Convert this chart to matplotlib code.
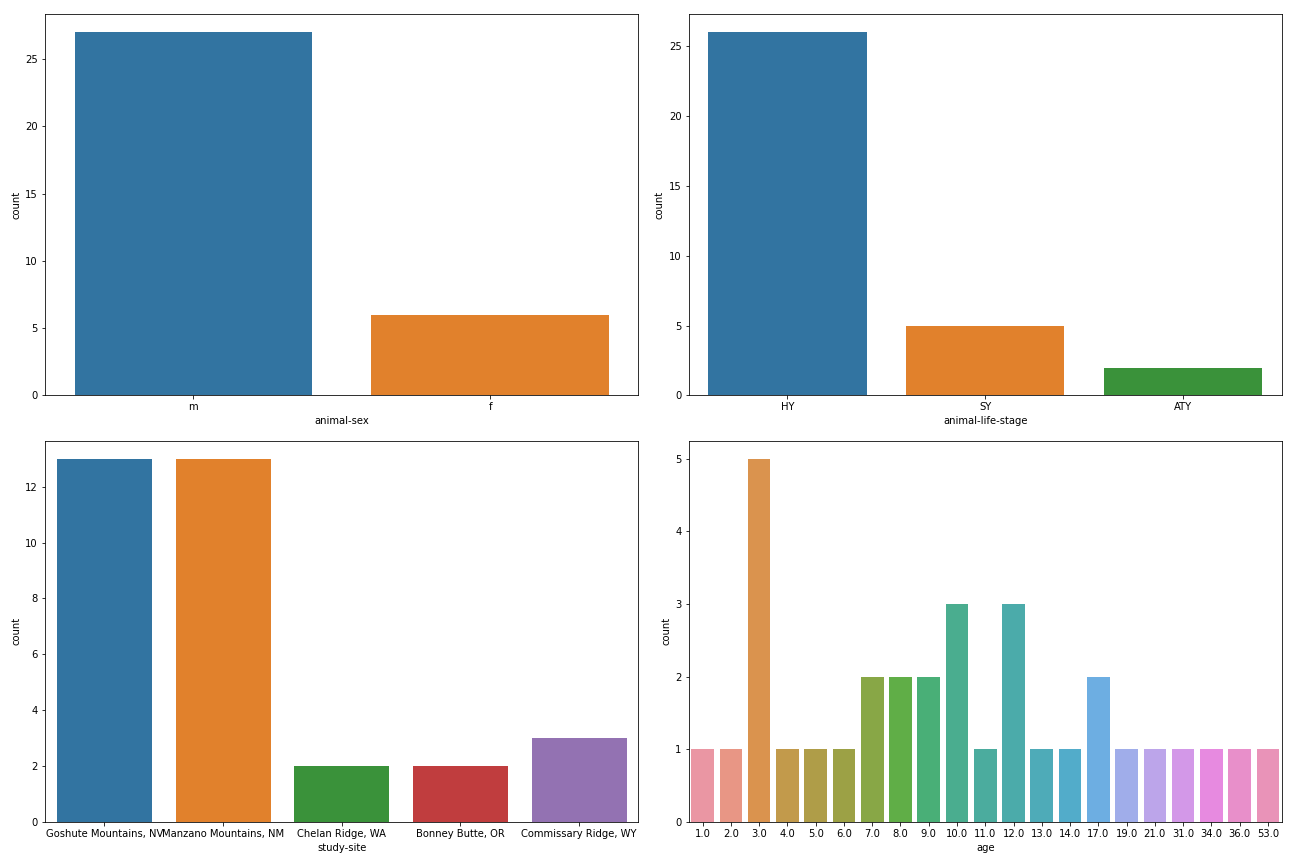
import numpy as np
import matplotlib
matplotlib.use("Agg")
import matplotlib.pyplot as plt
import seaborn as sns

sex_labels = ["m", "f"]
sex_counts = [27, 6]

stage_labels = ["HY", "SY", "ATY"]
stage_counts = [26, 5, 2]

site_labels = ["Goshute Mountains, NV", "Manzano Mountains, NM", "Chelan Ridge, WA",
               "Bonney Butte, OR", "Commissary Ridge, WY"]
site_counts = [13, 13, 2, 2, 3]

age_labels = ["1.0", "2.0", "3.0", "4.0", "5.0", "6.0", "7.0", "8.0", "9.0", "10.0",
              "11.0", "12.0", "13.0", "14.0", "17.0", "19.0", "21.0", "31.0", "34.0",
              "36.0", "53.0"]
age_counts = [1, 1, 5, 1, 1, 1, 2, 2, 2, 3, 1, 3, 1, 1, 2, 1, 1, 1, 1, 1, 1]


def colors_for(n):
    # old seaborn countplot: current palette if it fits, else husl with l=.7
    if n <= 10:
        pal = sns.color_palette("tab10", n)
    else:
        pal = sns.husl_palette(n, l=.7)
    return [sns.desaturate(c, 0.75) for c in pal]


def countplot(ax, labels, counts, xlabel):
    x = np.arange(len(labels))
    ax.bar(x, counts, width=0.8, color=colors_for(len(labels)))
    ax.set_xticks(x)
    ax.set_xticklabels(labels)
    ax.set_xlim(-0.5, len(labels) - 0.5)
    ax.set_xlabel(xlabel)
    ax.set_ylabel("count")


fig, axes = plt.subplots(2, 2, figsize=(18, 12), dpi=72)
countplot(axes[0, 0], sex_labels, sex_counts, "animal-sex")
countplot(axes[0, 1], stage_labels, stage_counts, "animal-life-stage")
countplot(axes[1, 0], site_labels, site_counts, "study-site")
countplot(axes[1, 1], age_labels, age_counts, "age")

fig.subplots_adjust(left=0.0347, right=0.9892, top=0.9838, bottom=0.0486,
                    wspace=0.0843, hspace=0.118)
fig.savefig("out.png", dpi=72)
